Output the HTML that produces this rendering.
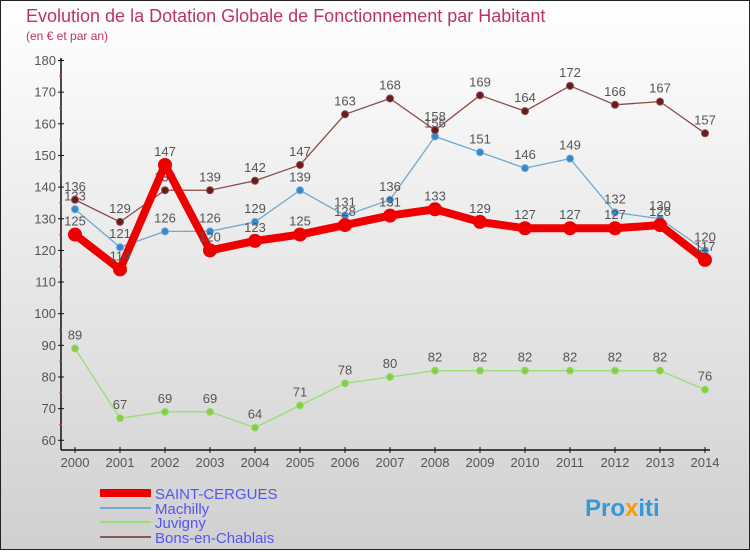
<!DOCTYPE html>
<html><head><meta charset="utf-8">
<style>
body{margin:0;width:750px;height:550px;overflow:hidden;font-family:"Liberation Sans",sans-serif;}
svg text{font-family:"Liberation Sans",sans-serif;}
</style></head>
<body>
<svg id="chart" width="750" height="550" xmlns="http://www.w3.org/2000/svg">
<defs>
<linearGradient id="bg" x1="0" y1="0" x2="0" y2="1">
<stop offset="0" stop-color="#ffffff"/><stop offset="1" stop-color="#d0d0d0"/>
</linearGradient>
</defs>
<rect x="0.5" y="0.5" width="749" height="549" fill="url(#bg)" stroke="#222" stroke-width="1"/>
<text x="26" y="22" font-size="18" fill="#c03068">Evolution de la Dotation Globale de Fonctionnement par Habitant</text>
<text x="26" y="40" font-size="12" fill="#c03068">(en € et par an)</text>
<g id="axes"></g>
<g id="series"></g>
<g id="legend">
<rect x="100" y="489" width="51" height="8" fill="#ee0000"/>
<text x="155" y="499" font-size="15" fill="#5555ee">SAINT-CERGUES</text>
<rect x="100" y="507" width="51" height="2" fill="#6fa8d0"/>
<text x="155" y="514" font-size="15" fill="#5555ee">Machilly</text>
<rect x="100" y="521" width="51" height="2" fill="#99dd77"/>
<text x="155" y="528" font-size="15" fill="#5555ee">Juvigny</text>
<rect x="100" y="536" width="51" height="2" fill="#8b5555"/>
<text x="155" y="543" font-size="15" fill="#5555ee">Bons-en-Chablais</text>
</g>
<text x="585" y="516" font-size="24" font-weight="bold" fill="#3399dd">Pro<tspan fill="#ff9900">x</tspan>iti</text>
</svg>
<script>
const years=[2000,2001,2002,2003,2004,2005,2006,2007,2008,2009,2010,2011,2012,2013,2014];
const yTicks=[60,70,80,90,100,110,120,130,140,150,160,170,180];
const saintCergues=[125,114,147,120,123,125,128,131,133,129,127,127,127,128,117];
const machilly=[133,121,126,126,129,139,131,136,156,151,146,149,132,130,120];
const juvigny=[89,67,69,69,64,71,78,80,82,82,82,82,82,82,76];
const bons=[136,129,139,139,142,147,163,168,158,169,164,172,166,167,157];

const NS="http://www.w3.org/2000/svg";
function xs(i){return 75+i*45;}
function ys(v){return 60.5+(180-v)*3.165;}
function mk(tag,attrs,parent){const e=document.createElementNS(NS,tag);for(const k in attrs)e.setAttribute(k,attrs[k]);parent.appendChild(e);return e;}
const axes=document.getElementById('axes');
const ser=document.getElementById('series');
let yl=mk('line',{x1:61,y1:58,x2:61,y2:450,stroke:'#111','stroke-width':1.5},axes);


let xl=mk('line',{x1:61,y1:450,x2:710,y2:450,stroke:'#111','stroke-width':1.5},axes);


yTicks.forEach(v=>{
 const y=ys(v);
 mk('line',{x1:58,y1:y,x2:64,y2:y,stroke:'#111'},axes);
 if(v<180)mk('line',{x1:59,y1:ys(v+5),x2:62,y2:ys(v+5),stroke:'#e33'},axes);
 const t=mk('text',{x:56,y:y+4.5,'font-size':13,fill:'#555','text-anchor':'end'},axes);
 t.textContent=v;
 
 
});
years.forEach((yr,i)=>{
 mk('line',{x1:xs(i),y1:447,x2:xs(i),y2:453,stroke:'#111'},axes);
 const t=mk('text',{x:xs(i),y:467,'font-size':13,fill:'#555','text-anchor':'middle'},axes);
 t.textContent=yr;
 
 
});
function draw(vals,color,w,r,name,dot){
 const pts=vals.map((v,i)=>xs(i)+','+ys(v)).join(' ');
 const pl=mk('polyline',{points:pts,fill:'none',stroke:color,'stroke-width':w,'stroke-linejoin':'round'},ser);
 
 
 vals.forEach((v,i)=>{
  const c=mk('circle',{cx:xs(i),cy:ys(v),r:r,fill:dot,stroke:color,'stroke-width':1},ser);
  
  
  const t=mk('text',{x:xs(i),y:ys(v)-9,'font-size':13,fill:'#555','text-anchor':'middle'},ser);
  t.textContent=v;
  
  
 });
}
draw(juvigny,'#99dd77',1.3,3.5,'juvigny','#88cc44');
draw(machilly,'#6fa8d0',1.3,3.5,'machilly','#3388cc');
draw(bons,'#8b4a4a',1.3,3.5,'bons-en-chablais','#6b1a1a');
draw(saintCergues,'#ee0000',8,6.5,'saint-cergues','#ee0000');
</script>
</body></html>
